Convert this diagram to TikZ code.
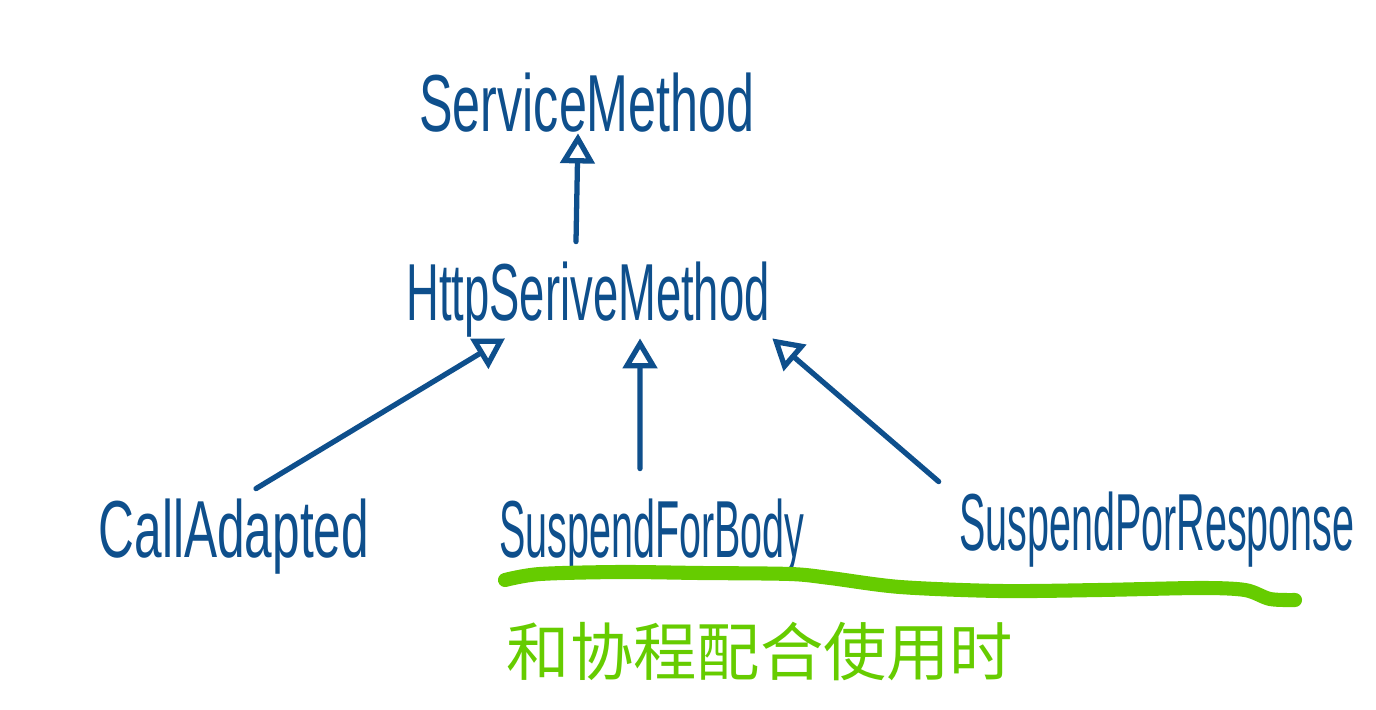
\documentclass[tikz,border=0pt]{standalone}
\usepackage{fontspec}
\setmainfont{Liberation Sans}
\newfontfamily\cjk{Noto Sans CJK SC}
\usetikzlibrary{arrows.meta}
\definecolor{ink}{HTML}{0E4F8C}
\definecolor{marker}{HTML}{66CC00}
\newcommand{\hand}[2]{\resizebox{#1}{\height}{#2}}
\begin{document}
\begin{tikzpicture}[x=0.01cm,y=-0.01cm,
  cls/.style={inner sep=0pt,text=ink,font=\fontsize{23}{26}\selectfont},
  inherit/.style={draw=ink,line width=1.5pt,line cap=round,-{Triangle[open,length=0.3cm,width=0.34cm,line width=1.5pt]}}]
	\useasboundingbox (0,0) rectangle (1376,710);
	\node[cls] (serv) at (587,103) {\hand{3.35cm}{ServiceMethod}};
	\node[cls] (http) at (588,300) {\hand{3.63cm}{HttpSeriveMethod}};
	\node[cls] (cadap) at (234,537) {\hand{2.7cm}{CallAdapted}};
	\node[cls] (sbody) at (652,537) {\hand{3.05cm}{SuspendForBody}};
	\node[cls] (sresp) at (1157,530) {\hand{3.95cm}{SuspendPorResponse}};
	\draw[inherit] ([xshift=-0.12cm,yshift=0.2cm]http.north) -- ([xshift=-0.09cm]serv.south);
	\draw[inherit] ([xshift=0.22cm,yshift=0.1cm]cadap.north) -- ([xshift=-0.83cm,yshift=0cm]http.south);
	\draw[inherit] ([xshift=-0.12cm,yshift=0.3cm]sbody.north) -- ([xshift=0.52cm]http.south);
	\draw[inherit] ([xshift=-0.2cm,yshift=0.1cm]sresp.north west) -- ([xshift=0.02cm]http.south east);
	% green remark
	\draw[marker,line width=4pt,line cap=round] plot[smooth] coordinates {(505,580) (540,574) (620,572) (700,573) (790,574) (830,578) (900,587) (1000,591) (1100,590) (1200,588) (1245,590) (1270,599) (1295,600)};
	\node[inner sep=0pt,text=marker,font=\cjk\fontsize{18}{22}\selectfont] (note) at (760,652) {和协程配合使用时};
\end{tikzpicture}
\end{document}
